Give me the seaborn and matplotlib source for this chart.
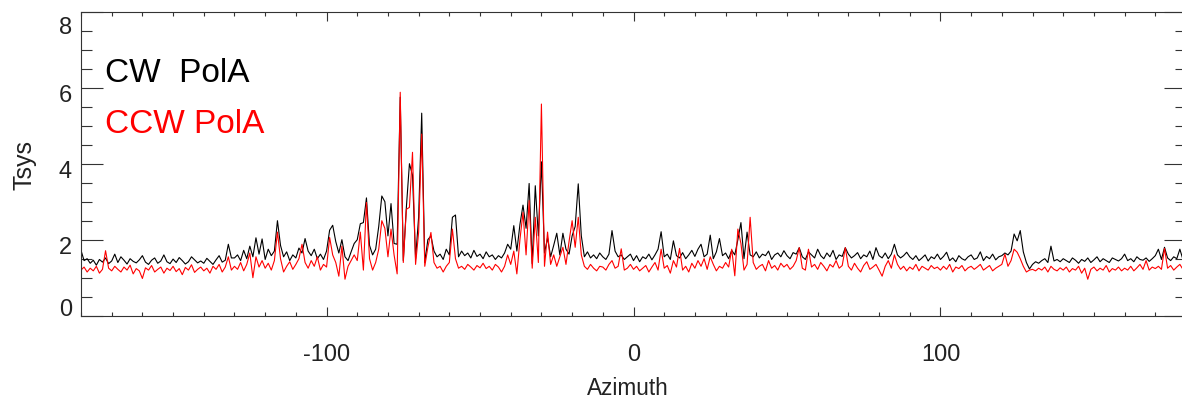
import numpy as np
import pandas as pd
import seaborn as sns
import matplotlib.pyplot as plt
from matplotlib.ticker import MultipleLocator
from matplotlib.transforms import ScaledTranslation

# azimuth grid, one sample per degree
azimuth = np.arange(-180, 181)

# Tsys values, rows of 10 degrees starting at -180
cw_pola = [
    1.72, 1.45, 1.50, 1.38, 1.46, 1.33, 1.48, 1.41, 1.52, 1.37,
    1.44, 1.62, 1.40, 1.55, 1.46, 1.36, 1.50, 1.43, 1.39, 1.47,
    1.58, 1.41, 1.35, 1.46, 1.52, 1.38, 1.44, 1.60, 1.42, 1.37,
    1.49, 1.40, 1.53, 1.45, 1.36, 1.42, 1.55, 1.47, 1.39, 1.44,
    1.38, 1.51, 1.43, 1.35, 1.47, 1.58, 1.41, 1.46, 1.88, 1.52,
    1.52, 1.60, 1.45, 1.72, 1.50, 1.83, 1.55, 2.05, 1.62, 2.02,
    1.48, 1.75, 1.58, 1.70, 2.50, 1.85, 1.55, 1.68, 1.45, 1.60,
    1.52, 1.78, 1.65, 2.03, 1.70, 1.58, 1.75, 1.50, 1.62, 1.48,
    1.70, 2.25, 2.38, 1.95, 1.65, 2.00, 1.55, 1.45, 1.68, 1.90,
    2.00, 2.42, 2.45, 3.10, 1.85, 1.60, 1.75, 2.35, 3.15, 3.00,
    2.10, 2.95, 1.90, 1.88, 5.75, 1.45, 2.85, 4.00, 3.70, 1.50,
    2.60, 5.33, 1.40, 2.00, 2.10, 1.70, 1.55, 1.62, 1.48, 1.75,
    1.60, 2.59, 2.65, 1.55, 1.70, 1.58, 1.65, 1.52, 1.72, 1.56,
    1.62, 1.50, 1.68, 1.55, 1.60, 1.48, 1.58, 1.52, 1.65, 1.88,
    1.75, 2.37, 1.70, 2.40, 2.91, 2.30, 3.48, 1.37, 3.42, 2.10,
    4.05, 1.65, 2.05, 1.55, 1.85, 2.17, 1.60, 2.17, 1.75, 1.62,
    2.10, 2.35, 3.47, 2.10, 1.55, 1.68, 1.52, 1.60, 1.50, 1.65,
    1.55, 1.48, 1.62, 2.24, 1.70, 1.55, 1.60, 1.48, 1.55, 1.62,
    1.45, 1.58, 1.42, 1.55, 1.50, 1.62, 1.47, 1.60, 1.75, 2.21,
    1.55, 1.62, 1.48, 1.97, 1.58, 1.52, 1.66, 1.50, 1.60, 1.72,
    1.56, 1.75, 1.88, 1.55, 1.62, 2.12, 1.50, 1.68, 2.03, 1.58,
    1.65, 1.50, 1.72, 1.60, 2.00, 2.45, 1.50, 2.20, 1.60, 1.55,
    1.68, 1.52, 1.62, 1.58, 1.70, 1.48, 1.60, 1.65, 1.55, 1.71,
    1.58, 1.50, 1.66, 1.62, 1.79, 1.55, 1.48, 1.68, 1.60, 1.52,
    1.75, 1.58, 1.50, 1.65, 1.55, 1.72, 1.48, 1.60, 1.56, 1.79,
    1.62, 1.52, 1.58, 1.66, 1.50, 1.60, 1.55, 1.70, 1.48, 1.79,
    1.58, 1.52, 1.65, 1.50, 1.62, 1.88, 1.60, 1.52, 1.58, 1.67,
    1.55, 1.48, 1.58, 1.45, 1.52, 1.60, 1.44, 1.55, 1.50, 1.62,
    1.48, 1.56, 1.67, 1.45, 1.52, 1.42, 1.58, 1.50, 1.46, 1.55,
    1.60, 1.48, 1.52, 1.68, 1.45, 1.56, 1.50, 1.62, 1.47, 1.55,
    1.58, 1.65, 1.60, 1.70, 2.15, 1.97, 2.24, 1.68, 1.40, 1.23,
    1.35, 1.42, 1.38, 1.45, 1.50, 1.40, 1.83, 1.44, 1.48, 1.42,
    1.50, 1.45, 1.40, 1.52, 1.46, 1.38, 1.48, 1.43, 1.52, 1.40,
    1.47, 1.55, 1.42, 1.50, 1.45, 1.40, 1.52, 1.48, 1.44, 1.50,
    1.62, 1.45, 1.50, 1.42, 1.55, 1.48, 1.46, 1.52, 1.43, 1.50,
    1.58, 1.75, 1.48, 1.80, 1.52, 1.45, 1.55, 1.50, 1.75, 1.48,
    1.55,
]

ccw_pola = [
    1.20, 1.28, 1.15, 1.25, 1.18, 1.30, 1.12, 1.22, 1.71, 1.25,
    1.18, 1.30, 1.22, 1.15, 1.28, 1.20, 1.33, 1.10, 1.24, 1.18,
    0.98, 1.26, 1.20, 1.32, 1.15, 1.22, 1.28, 1.12, 1.25, 1.19,
    1.30, 1.16, 1.24, 1.08, 1.27, 1.20, 1.34, 1.14, 1.22, 1.28,
    1.18, 1.25, 1.12, 1.30, 1.22, 1.35, 1.15, 1.28, 1.55, 1.20,
    1.30, 1.22, 1.40, 1.18, 1.35, 1.65, 1.00, 1.55, 1.28, 1.45,
    1.25, 1.38, 1.20, 1.45, 2.20, 1.50, 1.15, 1.30, 1.42, 1.22,
    1.35, 1.50, 1.88, 1.40, 1.25, 1.45, 1.30, 1.55, 1.20, 1.35,
    1.28, 2.06, 1.60, 1.40, 1.04, 1.83, 0.96, 1.30, 1.45, 1.60,
    1.45, 2.20, 1.20, 2.98, 1.50, 1.20, 1.40, 1.75, 2.50, 2.30,
    1.55, 2.28, 1.60, 1.10, 5.88, 1.40, 2.80, 2.85, 4.30, 1.35,
    2.20, 4.78, 1.30, 1.80, 2.19, 1.40, 1.25, 1.30, 1.15, 1.30,
    1.40, 2.28, 1.50, 1.25, 1.30, 1.22, 1.35, 1.28, 1.20, 1.32,
    1.26, 1.38, 1.24, 1.30, 1.20, 1.35, 1.28, 1.15, 1.30, 1.60,
    1.35, 1.70, 1.10, 2.00, 2.72, 1.60, 3.03, 1.25, 2.59, 1.40,
    5.57, 1.30, 2.20, 1.35, 1.60, 1.30, 1.55, 1.80, 1.35, 1.95,
    2.50, 1.80, 2.59, 1.60, 1.30, 1.22, 1.35, 1.25, 1.18, 1.30,
    1.28, 1.20, 1.35, 1.45, 1.25, 1.30, 1.76, 1.20, 1.25, 1.35,
    1.22, 1.30, 1.18, 1.25, 1.32, 1.15, 1.28, 1.40, 1.20, 1.75,
    1.25, 1.32, 1.12, 1.45, 1.28, 1.77, 1.20, 1.30, 1.15, 1.38,
    1.25, 1.45, 1.30, 1.50, 1.22, 1.55, 1.35, 1.18, 1.30, 1.25,
    1.40, 1.28, 1.75, 1.05, 2.28, 1.90, 1.20, 1.35, 2.59, 1.40,
    1.22, 1.30, 1.35, 1.18, 1.45, 1.25, 1.32, 1.20, 1.38, 1.28,
    1.35, 1.22, 1.30, 1.45, 1.79, 1.25, 1.20, 1.75, 1.28, 1.35,
    1.22, 1.40, 1.30, 1.18, 1.35, 1.28, 1.45, 1.25, 1.32, 1.79,
    1.30, 1.20, 1.38, 1.25, 1.15, 1.32, 1.42, 1.22, 1.28, 1.35,
    1.20, 1.04, 1.30, 1.45, 1.25, 1.60, 1.35, 1.22, 1.30, 1.18,
    1.28, 1.22, 1.35, 1.18, 1.30, 1.25, 1.20, 1.32, 1.24, 1.28,
    1.20, 1.30, 1.22, 1.35, 1.15, 1.28, 1.24, 1.32, 1.18, 1.26,
    1.30, 1.22, 1.28, 1.35, 1.20, 1.26, 1.32, 1.18, 1.25, 1.30,
    1.35, 1.62, 1.30, 1.45, 1.75, 1.67, 1.50, 1.30, 1.15, 1.20,
    1.22, 1.18, 1.25, 1.20, 1.28, 1.15, 1.30, 1.22, 1.18, 1.26,
    1.20, 1.28, 1.15, 1.24, 1.20, 1.30, 1.12, 1.25, 0.96, 1.22,
    1.28, 1.18, 1.25, 1.20, 1.32, 1.15, 1.24, 1.20, 1.28, 1.18,
    1.25, 1.20, 1.30, 1.18, 1.26, 1.35, 1.22, 1.45, 1.20, 1.28,
    1.24, 1.30, 1.22, 1.77, 1.25, 1.32, 1.20, 1.28, 1.35, 1.22,
    1.30,
]

x_major = [-100, 0, 100]
y_major = [0, 2, 4, 6, 8]

sns.set_theme(style="ticks")
plt.rcParams['font.family'] = ['Liberation Sans', 'DejaVu Sans']
plt.rcParams['axes.unicode_minus'] = False

df = pd.DataFrame({'Azimuth': azimuth, 'CW': cw_pola, 'CCW': ccw_pola})

W, H = 1182, 402
fig = plt.figure(figsize=(W / 100, H / 100), dpi=100)
# the plot box runs a little past the right edge, as in the cropped original
ax = fig.add_axes([81 / W, (H - 316.7) / H, 1105 / W, 304 / H])

sns.lineplot(data=df, x='Azimuth', y='CW', color='black', lw=0.8,
             estimator=None, sort=False, ax=ax)
sns.lineplot(data=df, x='Azimuth', y='CCW', color='#ff0000', lw=0.8,
             estimator=None, sort=False, ax=ax)

ax.set_xlim(-180, 180)
ax.set_ylim(0, 8)
ax.set_xticks(x_major)
ax.set_yticks(y_major)
ax.xaxis.set_minor_locator(MultipleLocator(10))
ax.yaxis.set_minor_locator(MultipleLocator(0.5))
ax.set_xlabel('')
ax.set_ylabel('')

ax.tick_params(axis='x', which='major', direction='in', length=6.5, width=0.8,
               top=True, pad=19.5, labelsize=17, color='#333333', labelcolor='#222222')
ax.tick_params(axis='x', which='minor', direction='in', length=3, width=0.8,
               top=True, color='#333333')
ax.tick_params(axis='y', which='major', direction='in', length=16, width=0.8,
               right=True, pad=6.5, labelsize=17, color='#333333', labelcolor='#222222')
ax.tick_params(axis='y', which='minor', direction='in', length=8, width=0.8,
               right=True, color='#333333')
for s in ax.spines.values():
    s.set_linewidth(0.8)
    s.set_color('#333333')

# IDL nudges the y labels off their ticks (points, positive is up)
label_shift = {0: 6.3, 2: -3.8, 4: -3.8, 6: -3.8, 8: -8.9}
for val, lab in zip(y_major, ax.get_yticklabels()):
    lab.set_transform(lab.get_transform() +
                      ScaledTranslation(0, label_shift[val] / 72, fig.dpi_scale_trans))

ax.text(0.0217, 0.773, 'CW  PolA', transform=ax.transAxes, fontsize=24,
        color='black', va='baseline', ha='left')
ax.text(0.0217, 0.603, 'CCW PolA', transform=ax.transAxes, fontsize=24,
        color='#ff0000', va='baseline', ha='left')

fig.text(24.5 / W, (H - 164.7) / H, 'Tsys', rotation=90, ha='center', va='center',
         fontsize=18, color='#222222')
fig.text(628 / W, 6.5 / H, 'Azimuth', ha='center', va='baseline',
         fontsize=16.3, color='#222222')

fig.savefig('out.png', dpi=100)
